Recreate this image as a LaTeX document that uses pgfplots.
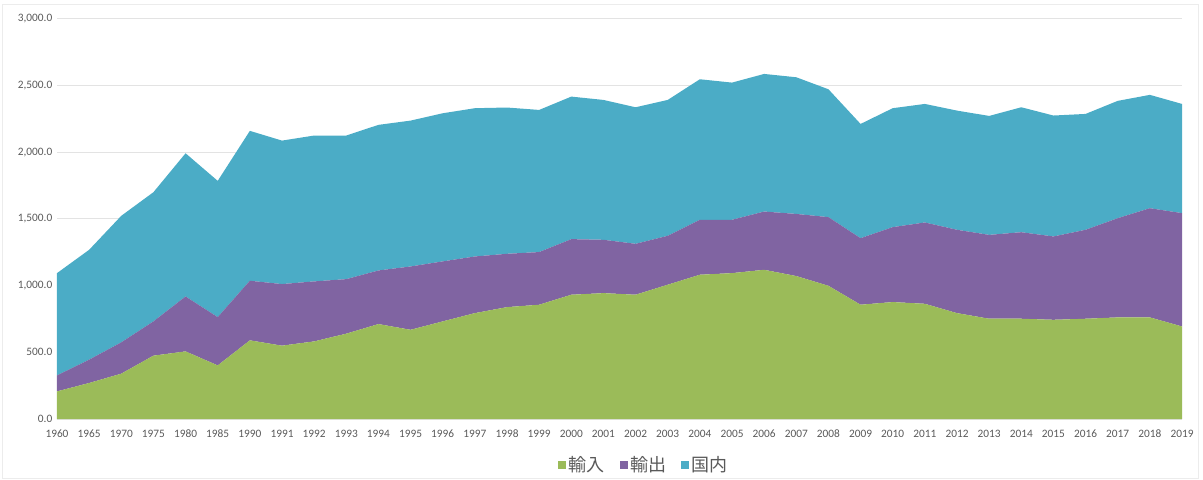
\documentclass[border=0pt]{standalone}
\usepackage{fontspec}
\setmainfont{Carlito}
\newfontfamily\cjk{Noto Sans CJK JP}
\usepackage{pgfplots}
\usepackage{pgfplotstable}
\pgfplotsset{compat=1.18}

\definecolor{imp}{HTML}{9BBB59}
\definecolor{exp}{HTML}{8064A2}
\definecolor{dom}{HTML}{4BACC6}
\definecolor{lbl}{HTML}{595959}

% idx: 0 = 1960, 1 = 1965, ..., 5 = 1985, 6 = 1990, ..., 35 = 2019
\pgfplotstableread{
idx imp exp dom
0  207 120 767
1  270 175 824
2  340 235 949
3  475 257 969
4  507 412 1074
5  402 362 1022
6  590 447 1124
7  550 462 1076
8  582 450 1094
9  640 409 1077
10 712 402 1092
11 669 475 1094
12 732 450 1111
13 794 425 1112
14 839 400 1097
15 857 395 1066
16 932 417 1069
17 944 400 1049
18 932 382 1024
19 1007 367 1019
20 1082 412 1054
21 1094 400 1029
22 1119 437 1032
23 1072 466 1025
24 999 515 959
25 857 499 857
26 877 562 892
27 864 610 889
28 794 625 894
29 752 629 892
30 752 649 937
31 744 625 907
32 752 667 869
33 762 744 880
34 762 819 850
35 694 850 819
}\data

\begin{document}
\begin{tikzpicture}
% whole picture and faint outer frame
\path (-42.75pt,-45pt) rectangle (859.5pt,314.25pt);
\draw[gray!15, line width=0.75pt] (-40.5pt,-44.25pt) rectangle (855.75pt,310.5pt);
\begin{axis}[
    at={(0,0)}, anchor=south west,
    scale only axis,
    width=843.75pt, height=300pt,
    xmin=0, xmax=35,
    ymin=0, ymax=3000,
    stack plots=y,
    axis line style={draw=none},
    major tick length=0pt,
    xtick={0,...,35},
    xticklabels={1960,1965,1970,1975,1980,1985,1990,1991,1992,1993,1994,1995,1996,1997,1998,1999,2000,2001,2002,2003,2004,2005,2006,2007,2008,2009,2010,2011,2012,2013,2014,2015,2016,2017,2018,2019},
    xticklabel style={yshift=-4.5pt},
    ytick={0,500,...,3000},
    ymajorgrids,
    grid style={gray!22, line width=0.75pt},
    yticklabel style={/pgf/number format/.cd, fixed, fixed zerofill, precision=1, 1000 sep={,}, assume math mode=true},
    tick label style={font=\fontsize{8.5}{10}\selectfont, text=lbl},
    legend style={at={(0.522,-0.115)}, anchor=center, draw=none, fill=none,
        legend columns=3, font=\cjk\fontsize{13.5}{15}\selectfont, text=lbl,
        /tikz/every even column/.append style={column sep=9pt}},
    legend image code/.code={\fill[#1] (0pt,-3pt) rectangle (6pt,3pt);},
    legend cell align=left,
]
\addplot[fill=imp, draw=none] table[x=idx, y=imp]{\data} \closedcycle;
\addplot[fill=exp, draw=none] table[x=idx, y=exp]{\data} \closedcycle;
\addplot[fill=dom, draw=none] table[x=idx, y=dom]{\data} \closedcycle;
\legend{輸入,輸出,国内}
\end{axis}
\end{tikzpicture}
\end{document}
